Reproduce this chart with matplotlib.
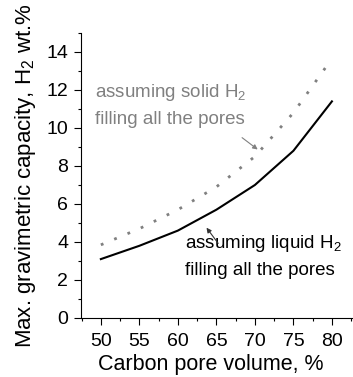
import matplotlib.pyplot as plt
from matplotlib.ticker import MultipleLocator

plt.rcParams['font.family'] = ['Liberation Sans', 'DejaVu Sans']
plt.rcParams['mathtext.fontset'] = 'custom'
plt.rcParams['mathtext.rm'] = 'Liberation Sans'
plt.rcParams['mathtext.it'] = 'Liberation Sans:italic'

pore_volume = [50, 55, 60, 65, 70, 75, 80]
liquid_h2 = [3.1, 3.8, 4.6, 5.7, 7.0, 8.8, 11.4]
solid_h2 = [3.85, 4.7, 5.7, 6.9, 8.5, 10.8, 13.65]

fig = plt.figure(figsize=(3.53, 3.77), dpi=100, facecolor='white')
ax = fig.add_axes([0.229, 0.1565, 0.768, 0.756])

ax.plot(pore_volume, liquid_h2, color='black', lw=1.5)
ax.plot(pore_volume, solid_h2, color='#808080', lw=2, linestyle=(0, (1, 4.2)))

ax.set_xlim(47.4, 82.6)
ax.set_ylim(0, 15)
ax.xaxis.set_major_locator(MultipleLocator(5))
ax.xaxis.set_minor_locator(MultipleLocator(2.5))
ax.yaxis.set_minor_locator(MultipleLocator(1))
ax.set_yticks(range(0, 15, 2))
for s in ['top', 'right']:
    ax.spines[s].set_visible(False)
ax.tick_params(which='major', direction='out', length=5, width=0.8, labelsize=14)
ax.tick_params(which='minor', direction='out', length=2.5, width=0.8)
ax.tick_params(axis='x', which='major', pad=6)
ax.tick_params(axis='y', which='major', pad=4)

ax.set_xlabel('Carbon pore volume, %', fontsize=15.5)
ax.xaxis.set_label_coords(0.478, -0.128)
ax.set_ylabel('Max. gravimetric capacity, H$_2$ wt.%', fontsize=16, labelpad=6)

# annotations
ax.text(49.2, 11.64, 'assuming solid H$_2$', color='#808080', fontsize=13.5, va='baseline')
ax.text(49.2, 10.21, 'filling all the pores', color='#808080', fontsize=13.5, va='baseline')
ax.annotate('', xy=(70.65, 8.78), xytext=(68.05, 9.58),
            arrowprops=dict(arrowstyle='-|>', color='#808080', lw=0.8, mutation_scale=7))

ax.text(60.9, 3.7, 'assuming liquid H$_2$', color='black', fontsize=13.5, va='baseline')
ax.text(60.9, 2.28, 'filling all the pores', color='black', fontsize=13.5, va='baseline')
ax.annotate('', xy=(63.5, 4.87), xytext=(65.45, 3.81),
            arrowprops=dict(arrowstyle='-|>', color='#333333', lw=0.8, mutation_scale=7))

plt.savefig('out.png', dpi=100, facecolor='white')
